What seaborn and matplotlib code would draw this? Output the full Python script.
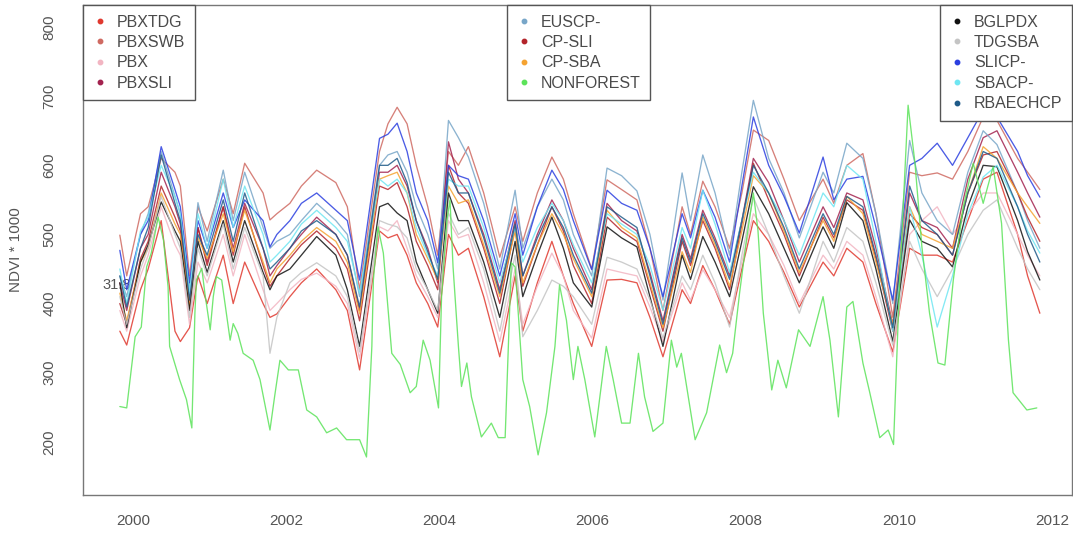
import numpy as np
import pandas as pd
import matplotlib
matplotlib.use("Agg")
import matplotlib.pyplot as plt
from matplotlib.lines import Line2D
import seaborn as sns

# Shared sampling dates (decimal years) for the forest classes
dates = [1999.83, 1999.92, 2000.10, 2000.20, 2000.37, 2000.55, 2000.62, 2000.74,
         2000.85, 2000.97, 2001.18, 2001.31, 2001.46, 2001.70, 2001.79, 2001.88,
         2002.05, 2002.20, 2002.40, 2002.65, 2002.80, 2002.96, 2003.22, 2003.33,
         2003.45, 2003.58, 2003.70, 2003.85, 2003.98, 2004.12, 2004.25, 2004.38,
         2004.58, 2004.79, 2004.99, 2005.09, 2005.28, 2005.47, 2005.62, 2005.75,
         2005.99, 2006.19, 2006.38, 2006.58, 2006.75, 2006.92, 2007.17, 2007.28,
         2007.44, 2007.60, 2007.79, 2007.95, 2008.10, 2008.30, 2008.50, 2008.70,
         2009.01, 2009.15, 2009.32, 2009.53, 2009.70, 2009.92, 2010.14, 2010.30,
         2010.50, 2010.70, 2010.90, 2011.10, 2011.28, 2011.55, 2011.68, 2011.84]

pbxswb = [499, 440, 530, 540, 610, 590, 570, 440,
          540, 505, 580, 530, 603, 560, 521, 530,
          545, 570, 593, 575, 540, 420, 620, 660,
          684, 660, 600, 540, 470, 620, 600, 627,
          560, 467, 540, 490, 560, 612, 580, 530,
          450, 579, 565, 550, 480, 390, 540, 500,
          577, 540, 480, 560, 651, 636, 580, 520,
          580, 545, 600, 617, 530, 380, 590, 585,
          589, 580, 620, 670, 665, 610, 590, 565]
euscp = [440, 410, 500, 530, 620, 555, 530, 420,
         546, 490, 593, 520, 590, 510, 480, 490,
         500, 520, 545, 520, 500, 410, 600, 615,
         620, 590, 540, 500, 450, 665, 640, 612,
         545, 450, 564, 480, 540, 580, 550, 500,
         440, 596, 585, 563, 500, 405, 589, 520,
         615, 560, 470, 590, 694, 610, 560, 495,
         590, 560, 632, 610, 530, 400, 636, 560,
         520, 500, 590, 650, 630, 560, 520, 480]
slicp = [477, 420, 500, 520, 627, 565, 540, 430,
         520, 480, 560, 510, 550, 520, 482, 500,
         520, 545, 560, 535, 520, 434, 639, 645,
         661, 620, 560, 520, 459, 600, 585, 580,
         520, 440, 530, 470, 540, 593, 565, 520,
         449, 564, 545, 535, 480, 410, 530, 495,
         564, 525, 460, 570, 670, 600, 555, 502,
         612, 550, 580, 584, 510, 405, 600, 610,
         632, 600, 640, 680, 670, 620, 585, 554]
pbxsli = [430, 390, 480, 500, 590, 540, 515, 400,
          510, 460, 540, 480, 545, 480, 440, 455,
          480, 500, 525, 500, 470, 390, 590, 590,
          600, 570, 520, 480, 430, 634, 580, 560,
          500, 420, 520, 440, 500, 550, 520, 480,
          420, 545, 520, 505, 445, 375, 500, 465,
          535, 495, 440, 520, 610, 575, 520, 460,
          540, 510, 560, 550, 480, 370, 560, 520,
          510, 480, 580, 640, 650, 590, 560, 525]
sbacp = [450, 400, 505, 525, 600, 555, 530, 415,
         530, 480, 580, 510, 570, 500, 460, 470,
         490, 515, 535, 510, 490, 415, 580, 570,
         580, 560, 510, 470, 440, 580, 570, 570,
         510, 430, 510, 460, 510, 545, 520, 485,
         430, 530, 515, 500, 455, 390, 510, 480,
         564, 515, 445, 520, 590, 560, 520, 470,
         560, 540, 600, 580, 490, 360, 540, 470,
         366, 440, 530, 583, 600, 540, 505, 473]
rbaechcp = [440, 395, 480, 510, 615, 545, 520, 405,
            500, 470, 550, 490, 560, 480, 450, 460,
            480, 505, 520, 500, 470, 395, 600, 600,
            610, 575, 520, 475, 435, 590, 560, 560,
            495, 415, 515, 440, 495, 540, 510, 470,
            415, 540, 525, 510, 440, 370, 495, 460,
            530, 490, 435, 520, 600, 560, 510, 450,
            530, 500, 555, 540, 470, 365, 570, 520,
            500, 470, 560, 620, 610, 540, 500, 460]
cpsba = [415, 375, 460, 480, 560, 515, 500, 395,
         495, 465, 530, 475, 535, 460, 430, 450,
         470, 490, 510, 490, 460, 385, 580, 585,
         590, 560, 500, 465, 434, 570, 545, 550,
         485, 410, 505, 430, 485, 530, 500, 465,
         410, 535, 510, 495, 430, 365, 475, 445,
         525, 485, 425, 505, 585, 560, 505, 445,
         520, 490, 555, 530, 460, 370, 540, 500,
         490, 480, 560, 627, 610, 560, 540, 516]
cpsli = [400, 370, 465, 490, 570, 525, 505, 390,
         510, 455, 540, 470, 540, 455, 425, 440,
         465, 485, 505, 480, 450, 375, 570, 565,
         575, 540, 490, 455, 420, 600, 560, 545,
         480, 400, 510, 425, 485, 540, 505, 455,
         400, 525, 505, 490, 425, 360, 490, 455,
         520, 480, 420, 515, 603, 550, 500, 440,
         525, 495, 550, 535, 465, 360, 530, 510,
         500, 470, 560, 615, 620, 560, 525, 490]
bglpdx = [430, 365, 460, 485, 547, 505, 490, 390,
          490, 445, 520, 460, 520, 445, 420, 440,
          450, 470, 497, 470, 420, 338, 540, 545,
          531, 520, 460, 420, 386, 560, 520, 520,
          460, 380, 490, 410, 470, 525, 480, 430,
          395, 511, 495, 482, 410, 338, 470, 435,
          497, 460, 410, 490, 569, 530, 480, 430,
          511, 480, 546, 520, 450, 345, 521, 490,
          480, 453, 540, 600, 598, 520, 475, 434]
pbx = [390, 360, 440, 470, 540, 485, 470, 370,
       460, 430, 500, 440, 500, 420, 390, 400,
       420, 435, 444, 425, 400, 320, 511, 505,
       520, 480, 440, 410, 380, 520, 495, 500,
       430, 345, 450, 370, 425, 473, 440, 390,
       350, 450, 445, 440, 395, 345, 430, 405,
       449, 420, 380, 460, 530, 500, 455, 400,
       470, 450, 490, 470, 410, 323, 500, 520,
       540, 500, 530, 560, 560, 500, 470, 440]
tdgsba = [410, 370, 450, 480, 555, 500, 480, 380,
          480, 440, 515, 450, 510, 440, 328, 380,
          430, 445, 459, 440, 410, 330, 520, 515,
          511, 495, 450, 420, 390, 531, 500, 510,
          450, 360, 470, 352, 390, 434, 425, 410,
          370, 467, 460, 450, 405, 350, 440, 420,
          470, 430, 366, 470, 554, 500, 440, 386,
          490, 460, 510, 490, 430, 340, 490, 450,
          410, 450, 500, 535, 550, 480, 450, 420]
pbxtdg = [360, 340, 420, 450, 520, 360, 345, 365,
          440, 400, 470, 400, 460, 400, 380, 385,
          410, 430, 450, 420, 390, 304, 505, 495,
          500, 470, 430, 400, 366, 500, 470, 480,
          410, 323, 440, 360, 430, 490, 440, 400,
          338, 434, 435, 430, 380, 323, 420, 400,
          455, 420, 370, 450, 520, 490, 445, 395,
          460, 440, 480, 460, 400, 330, 480, 470,
          470, 460, 520, 580, 590, 500, 440, 386]

# Non-forest class, sampled on its own dates
nf_dates = [1999.83, 1999.92, 2000.03, 2000.11, 2000.18, 2000.24, 2000.33, 2000.40,
            2000.46, 2000.48, 2000.61, 2000.70, 2000.77, 2000.81, 2000.83, 2000.90,
            2000.94, 2001.01, 2001.05, 2001.09, 2001.16, 2001.22, 2001.27, 2001.31,
            2001.37, 2001.44, 2001.57, 2001.66, 2001.79, 2001.85, 2001.92, 2002.03,
            2002.16, 2002.27, 2002.40, 2002.53, 2002.66, 2002.79, 2002.96, 2003.05,
            2003.12, 2003.14, 2003.20, 2003.27, 2003.38, 2003.49, 2003.62, 2003.70,
            2003.79, 2003.88, 2003.99, 2004.03, 2004.10, 2004.14, 2004.18, 2004.25,
            2004.29, 2004.36, 2004.42, 2004.55, 2004.68, 2004.77, 2004.86, 2004.94,
            2004.99, 2005.09, 2005.18, 2005.29, 2005.40, 2005.51, 2005.57, 2005.66,
            2005.75, 2005.81, 2005.90, 2006.03, 2006.18, 2006.27, 2006.38, 2006.49,
            2006.60, 2006.68, 2006.79, 2006.92, 2007.03, 2007.10, 2007.16, 2007.34,
            2007.49, 2007.66, 2007.75, 2007.83, 2007.92, 2008.01, 2008.10, 2008.16,
            2008.23, 2008.34, 2008.42, 2008.53, 2008.69, 2008.84, 2009.01, 2009.10,
            2009.21, 2009.32, 2009.40, 2009.53, 2009.62, 2009.75, 2009.86, 2009.93,
            2010.01, 2010.12, 2010.21, 2010.30, 2010.40, 2010.51, 2010.60, 2010.71,
            2010.84, 2010.97, 2011.10, 2011.23, 2011.34, 2011.43, 2011.49, 2011.67,
            2011.80]
nonforest = [251, 249, 352, 366, 453, 473, 525, 492,
             424, 338, 290, 261, 220, 386, 434, 451,
             415, 362, 410, 439, 434, 386, 347, 371,
             357, 328, 318, 290, 217, 265, 318, 304,
             304, 246, 236, 213, 220, 203, 203, 178,
             338, 434, 511, 473, 328, 312, 271, 280,
             347, 318, 249, 410, 521, 550, 453, 338,
             280, 314, 265, 207, 227, 206, 206, 459,
             453, 290, 251, 181, 242, 338, 427, 376,
             290, 338, 290, 207, 338, 290, 227, 227,
             328, 265, 215, 227, 347, 308, 328, 203,
             242, 340, 300, 328, 415, 492, 560, 506,
             386, 275, 318, 278, 362, 338, 410, 347,
             236, 395, 403, 314, 271, 206, 217, 196,
             434, 687, 603, 482, 386, 314, 311, 434,
             540, 603, 545, 598, 516, 347, 271, 246,
             249]

legend_a = ["PBXTDG", "PBXSWB", "PBX", "PBXSLI"]
legend_b = ["EUSCP-", "CP-SLI", "CP-SBA", "NONFOREST"]
legend_c = ["BGLPDX", "TDGSBA", "SLICP-", "SBACP-", "RBAECHCP"]

colors = {
    "PBXTDG": "#E0392F", "PBXSWB": "#CF6A62", "PBX": "#F2B5C2", "PBXSLI": "#A3234F",
    "EUSCP-": "#78A6C8", "CP-SLI": "#B3242B", "CP-SBA": "#F5A331", "NONFOREST": "#5CE35A",
    "BGLPDX": "#111111", "TDGSBA": "#C4C4C4", "SLICP-": "#2B3FE0", "SBACP-": "#6FE6F2",
    "RBAECHCP": "#1E5A88",
}

forest = {
    "PBXTDG": pbxtdg, "PBXSWB": pbxswb, "PBX": pbx, "PBXSLI": pbxsli,
    "EUSCP-": euscp, "CP-SLI": cpsli, "CP-SBA": cpsba,
    "BGLPDX": bglpdx, "TDGSBA": tdgsba, "SLICP-": slicp, "SBACP-": sbacp,
    "RBAECHCP": rbaechcp,
}

frames = [pd.DataFrame({"year": dates, "ndvi": v, "cls": k}) for k, v in forest.items()]
frames.append(pd.DataFrame({"year": nf_dates, "ndvi": nonforest, "cls": "NONFOREST"}))
df = pd.concat(frames, ignore_index=True)

sns.set_style("white")
plt.rcParams["font.family"] = ["Liberation Sans", "DejaVu Sans"]

fig = plt.figure(figsize=(10.73, 5.36), dpi=100)
ax = fig.add_axes([0.0774, 0.0765, 0.9217, 0.9142])

order = list(forest.keys()) + ["NONFOREST"]
sns.lineplot(data=df, x="year", y="ndvi", hue="cls", hue_order=order,
             palette=colors, estimator=None, sort=True, legend=False,
             linewidth=0.95, alpha=0.85, ax=ax)

ax.set_xlim(1999.35, 2012.26)
ax.set_ylim(123, 832)
ax.set_xticks([2000, 2002, 2004, 2006, 2008, 2010, 2012])
ax.set_yticks([200, 300, 400, 500, 600, 700, 800])
ax.set_xlabel("")
ax.set_ylabel("NDVI * 1000", fontsize=11, color="#555555", labelpad=14)
for lab in ax.get_yticklabels():
    lab.set_rotation(90)
    lab.set_va("center")
ax.tick_params(axis="both", direction="out", length=5, width=1, color="#777777",
               labelcolor="#555555", labelsize=11)
ax.tick_params(axis="y", pad=14)
ax.tick_params(axis="x", pad=9)
for s in ax.spines.values():
    s.set_color("#777777")
    s.set_linewidth(1.0)

ax.text(1999.79, 427, "31.8", fontsize=10.5, color="#555555",
        ha="center", va="center", zorder=0)


def make_legend(names, loc, anchor):
    handles = [Line2D([], [], marker="o", linestyle="", markersize=3.2,
                      color=colors[n]) for n in names]
    leg = ax.legend(handles, names, loc=loc, bbox_to_anchor=anchor,
                    frameon=True, fancybox=False, framealpha=1, edgecolor="#555555",
                    fontsize=11.5, labelspacing=0.34, handlelength=0.9,
                    handletextpad=0.6, borderpad=0.6, borderaxespad=0.0,
                    labelcolor="#4a4a4a")
    leg.get_frame().set_linewidth(1.0)
    return leg


leg1 = make_legend(legend_a, "upper left", (0.0, 1.0))
ax.add_artist(leg1)
leg2 = make_legend(legend_b, "upper left", (0.429, 1.0))
ax.add_artist(leg2)
make_legend(legend_c, "upper right", (1.0, 1.0))

fig.savefig("out.png", dpi=100)
